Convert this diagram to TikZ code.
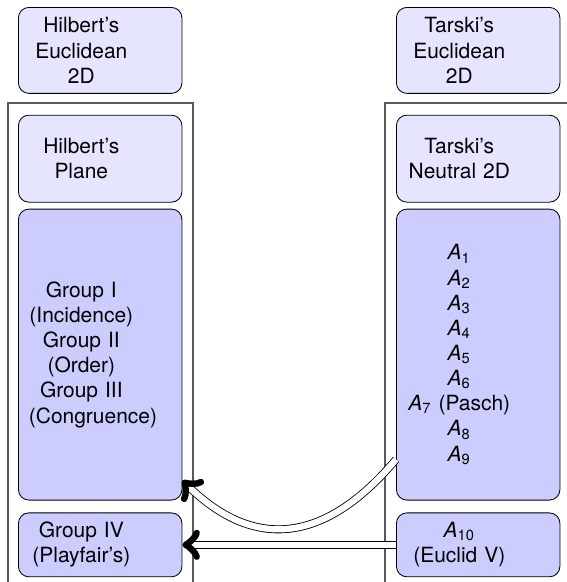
\documentclass[tikz,border=0pt]{standalone}
\usepackage{fontspec}
\setmainfont{TeX Gyre Heros}
\usepackage{tikz}
\usetikzlibrary{positioning}

\newcommand{\cellbox}[1]{\parbox{50pt}{\centering #1}}
\newcommand{\ax}[1]{\textit{A}\textsubscript{#1}}

\begin{document}
\begin{tikzpicture}[
    x=0.477pt, y=-0.477pt,
    theory/.style={rectangle, rounded corners=5pt, draw, fill=blue!10, align=left, text width=68pt, inner xsep=5pt, inner ysep=0pt},
    axioms/.style={theory, fill=blue!20},
    frame/.style={draw=black!65, semithick},
    implies/.style={double, double distance=3pt, ->}
]
\useasboundingbox (0,0) rectangle (567,582);

% Hilbert side
\node[theory, anchor=north west, minimum height=41pt] (hilbE) at (18,7) {\cellbox{Hilbert’s\\Euclidean\\2D}};
\node[theory, below=10pt of hilbE, minimum height=41.5pt] (hilbP) {\cellbox{Hilbert’s\\Plane}};
\node[axioms, below=2.9pt of hilbP, minimum height=138.8pt] (groups) {\cellbox{Group I\\(Incidence)\\Group II\\(Order)\\Group III\\(Congruence)}};
\node[axioms, below=5.7pt of groups, minimum height=30.5pt] (playfair) {\cellbox{Group IV\\(Playfair’s)}};

% Tarski side
\node[theory, anchor=north west, minimum height=41pt] (tarE) at (396,7) {\cellbox{Tarski’s\\Euclidean\\2D}};
\node[theory, below=10pt of tarE, minimum height=41.5pt] (tarN) {\cellbox{Tarski’s\\Neutral 2D}};
\node[axioms, below=2.9pt of tarN, minimum height=138.8pt] (tarski) {\cellbox{\ax{1}\\\ax{2}\\\ax{3}\\\ax{4}\\\ax{5}\\\ax{6}\\\ax{7} (Pasch)\\\ax{8}\\\ax{9}}};
\node[axioms, below=5.7pt of tarski, minimum height=30.5pt] (euclid) {\cellbox{\ax{10}\\(Euclid V)}};

% frames
\draw[frame] (8,582) |- (193,103) -- (193,582);
\draw[frame] (385,582) |- (567,103);

% implications
\draw[implies] ([yshift=-50pt]tarski.west) to[out=-130, in=-45, looseness=1.25] ([yshift=-60pt]groups.east);
\draw[implies] (euclid.west) -- (playfair.east);
\end{tikzpicture}
\end{document}
